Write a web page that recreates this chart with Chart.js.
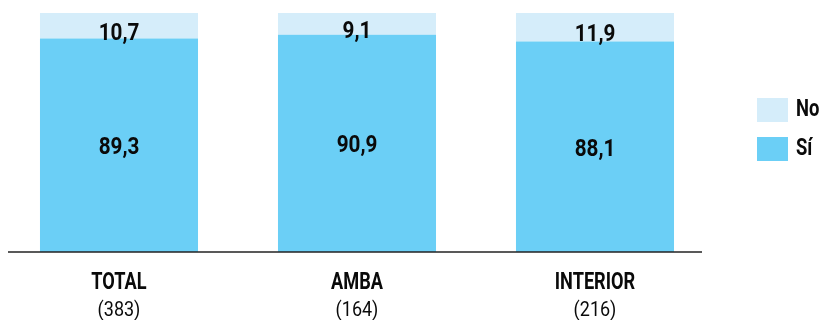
<!DOCTYPE html>
<html>
<head>
<meta charset="utf-8">
<script src="https://cdn.jsdelivr.net/npm/chart.js@4.4.1/dist/chart.umd.min.js"></script>
<style>
  html, body { margin: 0; padding: 0; background: #fff; }
  #wrap { width: 819px; height: 320px; }
</style>
</head>
<body>
<div id="wrap"><canvas id="grafico"></canvas></div>
<script>
// Datos
const categorias = ['TOTAL', 'AMBA', 'INTERIOR'];
const muestras = ['(383)', '(164)', '(216)'];
const valoresSi = [89.3, 90.9, 88.1];
const valoresNo = [10.7, 9.1, 11.9];

const colorSi = '#6bcff6';
const colorNo = '#d5edfa';
const fuente = 'Roboto, "DejaVu Sans Condensed", sans-serif';

const fmt = v => v.toFixed(1).replace('.', ',');

// texto comprimido en horizontal (la fuente original es condensada)
function texto(ctx, txt, x, y, font, escala){
  ctx.save();
  ctx.font = font;
  ctx.translate(x, y);
  ctx.scale(escala, 1);
  ctx.fillText(txt, 0, 0);
  ctx.restore();
}

// Etiquetas, eje inferior y leyenda dibujados a mano
const extras = {
  id: 'extras',
  afterDatasetsDraw(chart){
    const ctx = chart.ctx;
    const area = chart.chartArea;
    const x = chart.scales.x;
    ctx.save();

    // valores dentro de las barras
    ctx.fillStyle = '#0a0a0a';
    ctx.textAlign = 'center';
    ctx.textBaseline = 'alphabetic';
    chart.getDatasetMeta(0).data.forEach((bar, i) => {
      texto(ctx, fmt(valoresSi[i]), bar.x, (bar.y + bar.base) / 2 + 9, 'bold 23px ' + fuente, 0.9);
    });
    chart.getDatasetMeta(1).data.forEach((bar, i) => {
      texto(ctx, fmt(valoresNo[i]), bar.x, (bar.y + bar.base) / 2 + 14, 'bold 23px ' + fuente, 0.9);
    });

    // línea base
    ctx.strokeStyle = '#222';
    ctx.lineWidth = 1.5;
    ctx.beginPath();
    ctx.moveTo(8, area.bottom);
    ctx.lineTo(702, area.bottom);
    ctx.stroke();

    // categorías
    categorias.forEach((c, i) => {
      const px = x.getPixelForValue(i);
      texto(ctx, c, px, 289, 'bold 23px ' + fuente, 0.79);
      texto(ctx, muestras[i], px, 316, '20px ' + fuente, 0.9);
    });

    // leyenda
    const items = [['No', colorNo, 98], ['Sí', colorSi, 137]];
    ctx.textAlign = 'left';
    items.forEach(([txt, col, y]) => {
      ctx.fillStyle = col;
      ctx.fillRect(757, y, 31, 24);
      ctx.fillStyle = '#0a0a0a';
      texto(ctx, txt, 796, y + 18, 'bold 23px ' + fuente, 0.8);
    });
    ctx.restore();
  }
};

new Chart(document.getElementById('grafico'), {
  type: 'bar',
  data: {
    labels: categorias,
    datasets: [
      { label: 'Sí', data: valoresSi, backgroundColor: colorSi, borderWidth: 0,
        categoryPercentage: 1, barPercentage: 0.664 },
      { label: 'No', data: valoresNo, backgroundColor: colorNo, borderWidth: 0,
        categoryPercentage: 1, barPercentage: 0.664 }
    ]
  },
  options: {
    responsive: true,
    maintainAspectRatio: false,
    animation: false,
    layout: { padding: { left: 0, right: 105, top: 13, bottom: 68 } },
    plugins: { legend: { display: false }, tooltip: { enabled: false } },
    scales: {
      x: { stacked: true, display: false },
      y: { stacked: true, display: false, min: 0, max: 100 }
    }
  },
  plugins: [extras]
});
</script>
</body>
</html>
